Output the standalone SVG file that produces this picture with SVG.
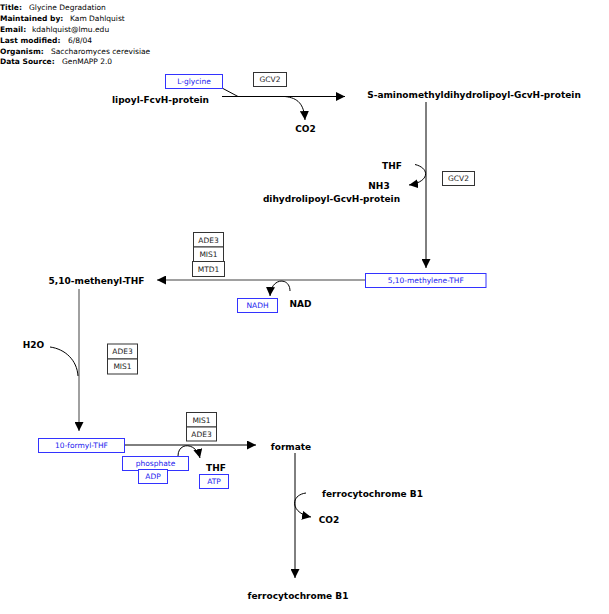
<svg xmlns="http://www.w3.org/2000/svg" width="609" height="614" viewBox="0 0 609 614">
<style>
.hdr{font-family:"DejaVu Sans",sans-serif;font-size:7.5px;fill:#000}
.hb{font-weight:bold}
.lbl{font-family:"DejaVu Sans",sans-serif;font-size:9px;font-weight:bold;fill:#000;text-anchor:middle}
.gene rect{fill:#fff;stroke:#333;stroke-width:1}
.gene text{font-family:"DejaVu Sans",sans-serif;font-size:7.5px;fill:#222;text-anchor:middle}
.met rect{fill:#fff;stroke:#3333ff;stroke-width:1}
.met text{font-family:"DejaVu Sans",sans-serif;font-size:7.5px;fill:#2222ee;text-anchor:middle}
.ln{fill:none;stroke:#000;stroke-width:1}
.gl{fill:none;stroke:#808080;stroke-width:1.5}
</style>
<defs>
<marker id="ah" viewBox="0 0 10 10" refX="10" refY="5" markerWidth="9" markerHeight="9" markerUnits="userSpaceOnUse" orient="auto">
<path d="M0,0 L10,5 L0,10 z" fill="#000"/>
</marker>
</defs>
<g id="header">
<text class="hdr" x="0" y="10"><tspan class="hb">Title:</tspan></text><text class="hdr" x="29" y="10">Glycine Degradation</text>
<text class="hdr" x="0" y="20.8"><tspan class="hb">Maintained by:</tspan></text><text class="hdr" x="70" y="20.8">Kam Dahlquist</text>
<text class="hdr" x="0" y="31.7"><tspan class="hb">Email:</tspan></text><text class="hdr" x="32" y="31.7">kdahlquist@lmu.edu</text>
<text class="hdr" x="0" y="42.6"><tspan class="hb">Last modified:</tspan></text><text class="hdr" x="68" y="42.6">6/8/04</text>
<text class="hdr" x="0" y="53.5"><tspan class="hb">Organism:</tspan></text><text class="hdr" x="51" y="53.5">Saccharomyces cerevisiae</text>
<text class="hdr" x="0" y="64.3"><tspan class="hb">Data Source:</tspan></text><text class="hdr" x="62" y="64.3">GenMAPP 2.0</text>
</g>
<g id="connectors">
<line class="ln" x1="222" y1="96.5" x2="345" y2="96.5" marker-end="url(#ah)"/>
<line class="ln" x1="222" y1="88" x2="238" y2="96.5"/>
<path class="ln" d="M285,96.5 C298,98 304,104 305,120" marker-end="url(#ah)"/>
<line class="ln" x1="426" y1="102" x2="426" y2="268" marker-end="url(#ah)"/>
<path class="ln" d="M415,164.5 C430,168 430,182 409,185" marker-end="url(#ah)"/>
<line class="gl" x1="365" y1="280" x2="157" y2="280" marker-end="url(#ah)"/>
<path class="ln" d="M290,291 C290,277 271,277 270,296" marker-end="url(#ah)"/>
<line class="gl" x1="79" y1="289" x2="79" y2="431" marker-end="url(#ah)"/>
<path class="ln" d="M50,347 C65,349 77,360 78,376"/>
<line class="ln" x1="124" y1="445" x2="256" y2="445" marker-end="url(#ah)"/>
<path class="ln" d="M178,456 C178,442 196,442 200,458" marker-end="url(#ah)"/>
<line class="ln" x1="295" y1="453" x2="295" y2="578" marker-end="url(#ah)"/>
<path class="ln" d="M306,493 C290,495 290,513 311,517" marker-end="url(#ah)"/>
</g>
<g id="L-glycine" class="met"><rect x="165.5" y="74.5" width="57" height="14"/><text x="194" y="84.2">L-glycine</text></g>
<g id="GCV2-a" class="gene"><rect x="253.5" y="72.5" width="33" height="14"/><text x="270" y="82.2">GCV2</text></g>
<g id="lipoyl"><text class="lbl" x="160.5" y="103">lipoyl-FcvH-protein</text></g>
<g id="CO2-a"><text class="lbl" x="305.5" y="131.5">CO2</text></g>
<g id="S-aminomethyl"><text class="lbl" x="474" y="97.5">S-aminomethyldihydrolipoyl-GcvH-protein</text></g>
<g id="THF-a"><text class="lbl" x="392" y="169">THF</text></g>
<g id="NH3"><text class="lbl" x="379" y="188.5">NH3</text></g>
<g id="GCV2-b" class="gene"><rect x="442.5" y="171.5" width="32" height="14"/><text x="458.5" y="181.2">GCV2</text></g>
<g id="dihydrolipoyl"><text class="lbl" x="331.5" y="201.5">dihydrolipoyl-GcvH-protein</text></g>
<g id="ADE3-a" class="gene"><rect x="193.5" y="232.5" width="30" height="14.5"/><text x="208.5" y="242.5">ADE3</text></g>
<g id="MIS1-a" class="gene"><rect x="193.5" y="247" width="30" height="14.5"/><text x="208.5" y="257">MIS1</text></g>
<g id="MTD1" class="gene"><rect x="192.5" y="261.5" width="32" height="15"/><text x="208.5" y="271.7">MTD1</text></g>
<g id="methylene-THF" class="met"><rect x="365.5" y="273.5" width="120.5" height="14"/><text x="425.7" y="283.2">5,10-methylene-THF</text></g>
<g id="NADH" class="met"><rect x="237.5" y="298.5" width="40" height="14"/><text x="257.5" y="308.2">NADH</text></g>
<g id="NAD"><text class="lbl" x="300.5" y="306.5">NAD</text></g>
<g id="methenyl-THF"><text class="lbl" x="96.5" y="283.5">5,10-methenyl-THF</text></g>
<g id="H2O"><text class="lbl" x="33.5" y="347.5">H2O</text></g>
<g id="ADE3-b" class="gene"><rect x="107.5" y="344" width="30" height="15"/><text x="122.5" y="354.2">ADE3</text></g>
<g id="MIS1-b" class="gene"><rect x="107.5" y="359" width="30" height="15"/><text x="122.5" y="369.2">MIS1</text></g>
<g id="formyl-THF" class="met"><rect x="38.5" y="438.5" width="86" height="14"/><text x="81.5" y="448.2">10-formyl-THF</text></g>
<g id="MIS1-c" class="gene"><rect x="186.5" y="412.5" width="30" height="14.5"/><text x="201.5" y="422.5">MIS1</text></g>
<g id="ADE3-c" class="gene"><rect x="186.5" y="427" width="30" height="14"/><text x="201.5" y="436.7">ADE3</text></g>
<g id="phosphate" class="met"><rect x="122.5" y="456.5" width="66" height="14"/><text x="155.5" y="466.2">phosphate</text></g>
<g id="ADP" class="met"><rect x="138.5" y="469.5" width="29" height="14"/><text x="153" y="479.2">ADP</text></g>
<g id="THF-b"><text class="lbl" x="216" y="470.5">THF</text></g>
<g id="ATP" class="met"><rect x="199.5" y="474.5" width="29" height="14"/><text x="214" y="484.2">ATP</text></g>
<g id="formate"><text class="lbl" x="291" y="449.5">formate</text></g>
<g id="ferro-a"><text class="lbl" x="372.5" y="496.5">ferrocytochrome B1</text></g>
<g id="CO2-b"><text class="lbl" x="329" y="522.5">CO2</text></g>
<g id="ferro-b"><text class="lbl" x="298" y="598.5">ferrocytochrome B1</text></g>
</svg>
